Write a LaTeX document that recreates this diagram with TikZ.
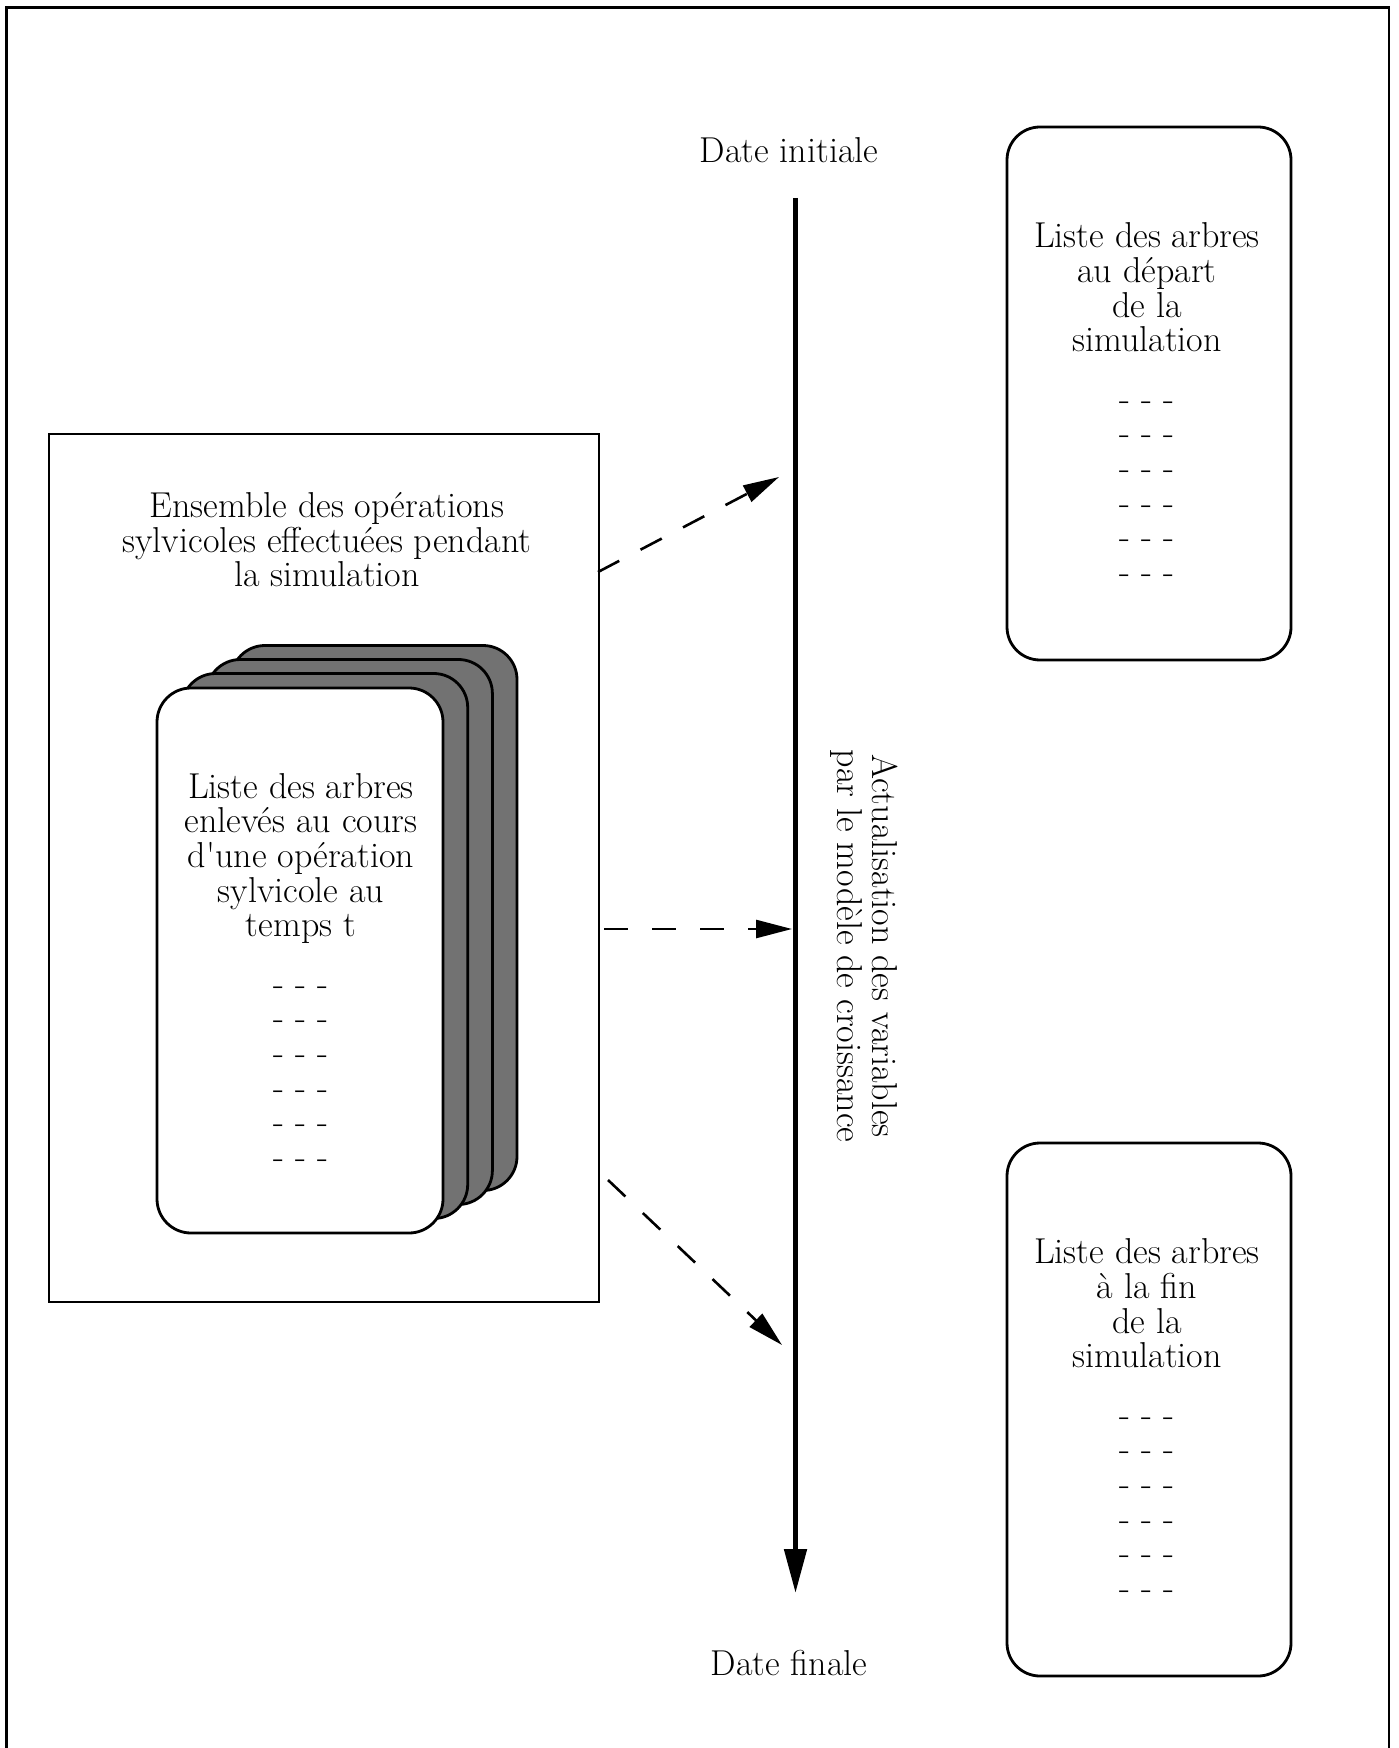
\documentclass[tikz,border=0pt]{standalone}
\usetikzlibrary{arrows.meta}
\definecolor{cardgray}{HTML}{727272}
\begin{document}
\begin{tikzpicture}[x=0.5pt,y=-0.5pt,
  frame/.style={line width=1.4pt},
  listbox/.style={draw, line width=1.4pt, rounded corners=16.5pt, minimum width=142pt, minimum height=266.5pt, inner sep=0pt},
  card/.style={draw, line width=1.4pt, rounded corners=17pt, minimum width=143pt, minimum height=272.5pt, inner sep=0pt},
  backcard/.style={card, fill=cardgray},
  frontcard/.style={card, fill=white},
  groupbox/.style={draw, line width=1.3pt, minimum width=275pt, minimum height=434pt, inner sep=0pt},
  txt/.style={font=\fontsize{18}{17.3}\selectfont, align=center, inner sep=0pt},
  dasharrow/.style={line width=1.3pt, dash pattern=on 12pt off 12pt, -{Triangle[length=18pt,width=9pt]}},
  mainarrow/.style={line width=2.5pt, -{Triangle[length=22pt,width=11pt]}}
]
\useasboundingbox (0,0) rectangle (1398,1748);
\draw[frame] (6.5,1760) -- (6.5,7.5) -- (1389,7.5) -- (1389,1760);

% timeline
\coordinate (tstart) at (795.5,198);
\coordinate (tend) at (795.5,1593);
\draw[mainarrow] (tstart) -- (tend);
\node[txt] (dinit) at (789,150.5) {Date initiale};
\node[txt] (dfin) at (789,1663) {Date finale};
\node[txt, rotate=-90] (actu) at (864,946) {Actualisation des variables\\par le modèle de croissance};

% right lists
\node[listbox] (startlist) at (1149,393.5) {};
\node[txt, anchor=north] (starttext) at (1147,222.5) {Liste des arbres\\au départ\\de la\\simulation\\[12pt]- - -\\- - -\\- - -\\- - -\\- - -\\- - -};
\node[listbox] (endlist) at (1149,1409.5) {};
\node[txt, anchor=north] (endtext) at (1147,1238.5) {Liste des arbres\\à la fin\\de la\\simulation\\[12pt]- - -\\- - -\\- - -\\- - -\\- - -\\- - -};

% left group
\node[groupbox] (ops) at (324,868) {};
\node[txt, anchor=north] (opstext) at (327,492) {Ensemble des opérations\\sylvicoles effectuées pendant\\la simulation};
\node[backcard] (card4) at (374,918) {};
\node[backcard] (card3) at (349.4,932) {};
\node[backcard] (card2) at (324.7,946) {};
\node[frontcard] (card1) at (300,960.5) {};
\node[txt, anchor=north] (cardtext) at (301,773) {Liste des arbres\\enlevés au cours\\d\textquotesingle une opération\\sylvicole au\\temps t\\[12pt]- - -\\- - -\\- - -\\- - -\\- - -\\- - -};

% dashed connectors
\coordinate (a1s) at (598,572);
\coordinate (a1e) at (779,477);
\coordinate (a2s) at (604,929);
\coordinate (a2e) at (792,929);
\coordinate (a3s) at (608,1180);
\coordinate (a3e) at (782,1345);
\draw[dasharrow] (a1s) -- (a1e);
\draw[dasharrow] (a2s) -- (a2e);
\draw[dasharrow] (a3s) -- (a3e);
\end{tikzpicture}
\end{document}
